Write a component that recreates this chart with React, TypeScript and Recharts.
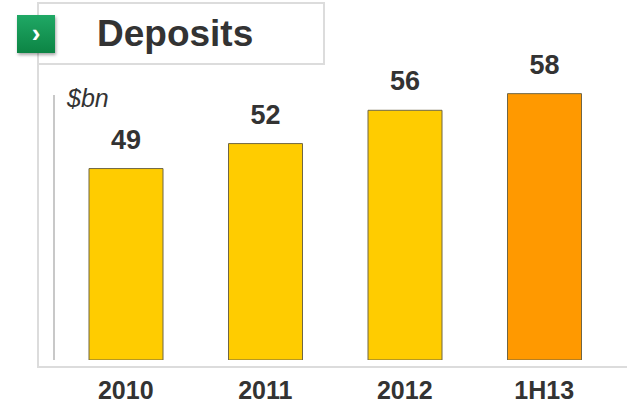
import { BarChart, Bar, XAxis, YAxis, Cell, LabelList } from "recharts";

const categories = ["2010", "2011", "2012", "1H13"];
const deposits = [49, 52, 56, 58];
const barColors = ["#ffcc00", "#ffcc00", "#ffcc00", "#ff9900"];

const data = categories.map((name, i) => ({ name, value: deposits[i] }));

const FONT = "'Liberation Sans', Arial, sans-serif";

function Tick({ x, y, payload }: any) {
  return (
    <text x={x} y={y} dy={31} textAnchor="middle" fontFamily={FONT} fontSize={25} fontWeight="bold" fill="#333">
      {payload.value}
    </text>
  );
}

export default function App() {
  return (
    <div style={{ position: "absolute", left: 0, top: 0, width: 627, height: 405, background: "#fff", fontFamily: FONT }}>
      {/* frame */}
      <div style={{ position: "absolute", left: 37, top: 2, width: 288, height: 63, border: "2px solid #dcdcdc", boxSizing: "border-box" }} />
      <div style={{ position: "absolute", left: 37, top: 2, width: 2, height: 366, background: "#dcdcdc" }} />
      <div style={{ position: "absolute", left: 37, top: 366, width: 590, height: 2, background: "#dcdcdc" }} />
      <div style={{ position: "absolute", left: 53, top: 95, width: 2, height: 265, background: "#c8c8c8" }} />

      {/* green icon */}
      <div
        style={{
          position: "absolute", left: 17, top: 15, width: 38, height: 38,
          background: "linear-gradient(#1fa865, #0c8444)", boxShadow: "1px 2px 3px rgba(0,0,0,0.35)",
          color: "#fff", fontWeight: "bold", fontSize: 26, lineHeight: "36px", textAlign: "center",
        }}
      >
        ›
      </div>
      <div style={{ position: "absolute", left: 97, top: 12, fontSize: 37, fontWeight: "bold", color: "#333", lineHeight: "44px" }}>
        Deposits
      </div>
      <div style={{ position: "absolute", left: 67, top: 83, fontSize: 25, fontStyle: "italic", color: "#333", lineHeight: "30px" }}>
        $bn
      </div>

      <div style={{ position: "absolute", left: 0, top: 0 }}>
        <BarChart width={627} height={405} data={data} margin={{ top: 77, right: 13, bottom: 15, left: 56 }} barCategoryGap={33}>
          <XAxis dataKey="name" axisLine={false} tickLine={false} height={30} tick={<Tick />} interval={0} />
          <YAxis hide domain={[26, 60]} allowDataOverflow />
          <Bar dataKey="value" isAnimationActive={false} stroke="#6f6645" strokeWidth={1}>
            {data.map((d, i) => (
              <Cell key={d.name} fill={barColors[i]} />
            ))}
            <LabelList dataKey="value" position="top" offset={20} fontFamily={FONT} fontSize={27} fontWeight="bold" fill="#333" />
          </Bar>
        </BarChart>
      </div>
    </div>
  );
}
